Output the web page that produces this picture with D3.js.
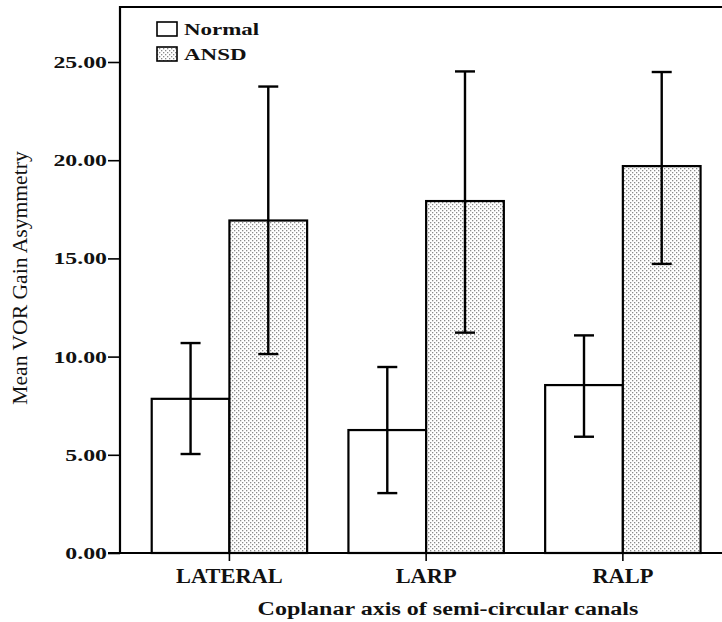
<!DOCTYPE html>
<html>
<head>
<meta charset="utf-8">
<script src="https://cdn.jsdelivr.net/npm/d3@7"></script>
<style>
  body { margin: 0; background: #fff; }
  text { font-family: "Liberation Serif", "DejaVu Serif", serif; fill: #111; }
</style>
</head>
<body>
<script>
const w = 722;
const h = 622;

// data
const canals = ["LATERAL", "LARP", "RALP"];
const groups = ["Normal", "ANSD"];
const normalMean = [7.85, 6.26, 8.55];
const normalLow = [5.04, 3.05, 5.92];
const normalHigh = [10.69, 9.47, 11.08];
const ansdMean = [16.93, 17.92, 19.7];
const ansdLow = [10.13, 11.22, 14.72];
const ansdHigh = [23.75, 24.52, 24.49];
const yTicks = [0, 5, 10, 15, 20, 25];

const rows = [];
canals.forEach((c, i) => {
  rows.push({canal: c, group: "Normal", mean: normalMean[i], lo: normalLow[i], hi: normalHigh[i]});
  rows.push({canal: c, group: "ANSD", mean: ansdMean[i], lo: ansdLow[i], hi: ansdHigh[i]});
});

// the original export has wide, stretched lettering
function stretch(sel, k) {
  sel.each(function () {
    const len = this.getComputedTextLength();
    d3.select(this).attr("textLength", len * k).attr("lengthAdjust", "spacingAndGlyphs");
  });
}

const svg = d3.select("body").append("svg")
  .attr("width", w)
  .attr("height", h);

// dotted fill like the spss output
const defs = svg.append("defs");
const pat = defs.append("pattern")
  .attr("id", "dots")
  .attr("patternUnits", "userSpaceOnUse")
  .attr("width", 4)
  .attr("height", 4);
pat.append("rect").attr("width", 4).attr("height", 4).attr("fill", "#fff");
pat.append("rect").attr("x", 0).attr("y", 0).attr("width", 1.3).attr("height", 1.3).attr("fill", "#8a8a8a");
pat.append("rect").attr("x", 2).attr("y", 2).attr("width", 1.3).attr("height", 1.3).attr("fill", "#8a8a8a");

const mLeft = 120, mTop = 7, mBottom = 553, mRight = 720;

const y = d3.scaleLinear()
  .domain([0, 25])
  .range([mBottom, 62]);

const x = d3.scaleBand()
  .domain(canals)
  .range([mLeft, mRight])
  .paddingInner(0.21)
  .paddingOuter(0.13)
  .align(0.62);

const xg = d3.scaleBand()
  .domain(groups)
  .range([0, x.bandwidth()]);

const fills = {Normal: "#fff", ANSD: "url(#dots)"};

// frame
svg.append("path")
  .attr("d", `M${mLeft},${mBottom} V${mTop} H${mRight + 4}`)
  .attr("fill", "none")
  .attr("stroke", "#000")
  .attr("stroke-width", 2.2);

// bars
svg.append("g").selectAll("rect")
  .data(rows)
  .enter()
  .append("rect")
  .attr("x", d => x(d.canal) + xg(d.group))
  .attr("y", d => y(d.mean))
  .attr("width", xg.bandwidth())
  .attr("height", d => y(0) - y(d.mean))
  .attr("fill", d => fills[d.group])
  .attr("stroke", "#000")
  .attr("stroke-width", 2.2);

// error bars
const err = svg.append("g")
  .attr("stroke", "#000")
  .attr("stroke-width", 2.4);
rows.forEach(d => {
  const cx = x(d.canal) + xg(d.group) + xg.bandwidth() / 2;
  err.append("line").attr("x1", cx).attr("x2", cx).attr("y1", y(d.lo)).attr("y2", y(d.hi));
  err.append("line").attr("x1", cx - 10).attr("x2", cx + 10).attr("y1", y(d.hi)).attr("y2", y(d.hi));
  err.append("line").attr("x1", cx - 10).attr("x2", cx + 10).attr("y1", y(d.lo)).attr("y2", y(d.lo));
});

// y axis
const yAxis = svg.append("g")
  .attr("transform", `translate(${mLeft},0)`)
  .call(d3.axisLeft(y).tickValues(yTicks).tickSize(12).tickSizeOuter(0).tickFormat(d3.format(".2f")));
yAxis.select(".domain").remove();
yAxis.selectAll("line").attr("stroke", "#000").attr("stroke-width", 1.6);
yAxis.selectAll("text")
  .attr("x", -13)
  .style("font-family", "'Liberation Serif', serif")
  .style("font-size", "17px")
  .style("font-weight", "bold")
  .attr("fill", "#111")
  .call(stretch, 1.4);

// x axis
const xAxis = svg.append("g")
  .attr("transform", `translate(0,${mBottom})`)
  .call(d3.axisBottom(x).tickSize(8).tickSizeOuter(0));
xAxis.select(".domain")
  .attr("d", `M${mLeft - 12},0 H${w}`)
  .attr("stroke", "#000")
  .attr("stroke-width", 2.2);
xAxis.selectAll(".tick line").attr("stroke", "#000").attr("stroke-width", 1.6);
xAxis.selectAll(".tick text")
  .attr("y", 30)
  .attr("dy", 0)
  .style("font-family", "'Liberation Serif', serif")
  .style("font-size", "20px")
  .style("font-weight", "bold")
  .attr("fill", "#111")
  .call(stretch, 1.12);

// titles
svg.append("text")
  .text("Coplanar axis of semi-circular canals")
  .attr("x", 448)
  .attr("y", 615)
  .attr("text-anchor", "middle")
  .style("font-size", "18.5px")
  .style("font-weight", "bold")
  .call(stretch, 1.3);

svg.append("text")
  .text("Mean VOR Gain Asymmetry")
  .attr("transform", "translate(27,278) rotate(-90)")
  .attr("text-anchor", "middle")
  .style("font-size", "20px")
  .call(stretch, 1.08);

// legend
const legend = svg.append("g").attr("transform", "translate(157,22)");
groups.forEach((g, i) => {
  legend.append("rect")
    .attr("x", 0)
    .attr("y", i * 25)
    .attr("width", 20)
    .attr("height", 14)
    .attr("fill", fills[g])
    .attr("stroke", "#000")
    .attr("stroke-width", 1.6);
  legend.append("text")
    .text(g)
    .attr("x", 27)
    .attr("y", i * 25 + 13)
    .style("font-size", "17px")
    .style("font-weight", "bold")
    .call(stretch, 1.35);
});
</script>
</body>
</html>
